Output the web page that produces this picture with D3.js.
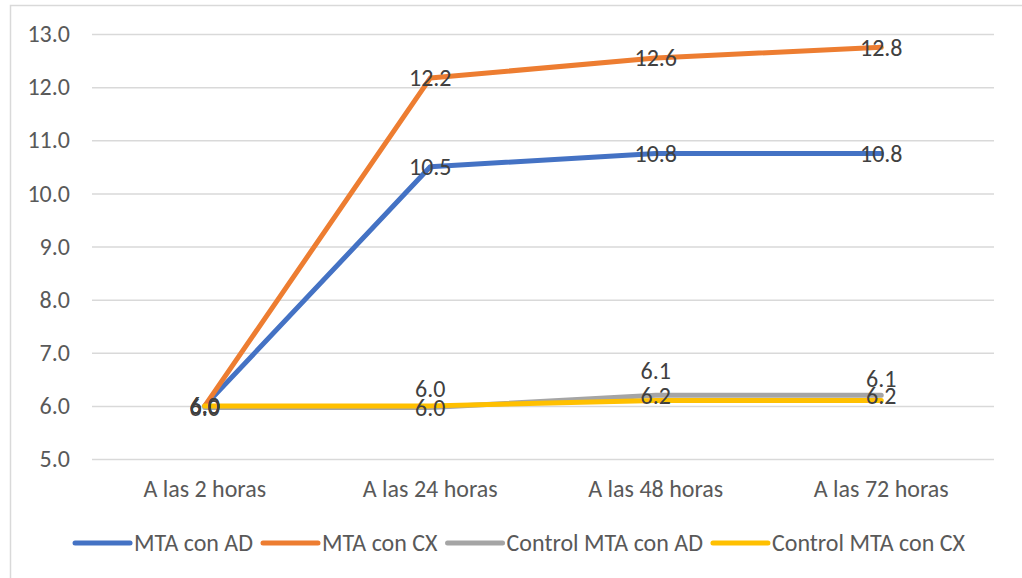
<!DOCTYPE html>
<html>
<head>
<meta charset="utf-8">
<script src="https://cdn.jsdelivr.net/npm/d3@7"></script>
<style>
  body { margin: 0; background: #fff; }
  text { font-family: Calibri, Carlito, "Liberation Sans", Arial, sans-serif; }
</style>
</head>
<body>
<div id="chart"></div>
<script>
// categorías y series
const categories = ["A las 2 horas", "A las 24 horas", "A las 48 horas", "A las 72 horas"];
const mtaAD = [6.0, 10.5, 10.75, 10.75];
const mtaCX = [6.0, 12.17, 12.55, 12.75];
const controlAD = [5.97, 5.97, 6.2, 6.2];
const controlCX = [6.0, 6.0, 6.1, 6.1];
const yTicks = [5, 6, 7, 8, 9, 10, 11, 12, 13];

// desplazamiento vertical (px) de las etiquetas, movidas a mano en el original
const offsetsCenter = [0, 0, 0, 0];
const offsetsControlCX = [0, -17, -30, -22];

const series = [
    { name: "MTA con AD", values: mtaAD, color: "#4472C4", offsets: offsetsCenter },
    { name: "MTA con CX", values: mtaCX, color: "#ED7D31", offsets: offsetsCenter },
    { name: "Control MTA con AD", values: controlAD, color: "#A5A5A5", offsets: offsetsCenter },
    { name: "Control MTA con CX", values: controlCX, color: "#FFC000", offsets: offsetsControlCX }
];

const width = 1022;
const height = 578;
const fontSize = "24px";
const plot = { left: 92, right: 994, top: 34, bottom: 459 };

const svg = d3.select("#chart")
    .append("svg")
    .attr("width", width)
    .attr("height", height);

// borde del gráfico
svg.append("rect")
    .attr("x", 10.5)
    .attr("y", 5.5)
    .attr("width", width + 20)
    .attr("height", height + 20)
    .attr("fill", "#fff")
    .attr("stroke", "#d9d9d9")
    .attr("stroke-width", 1.5);

const x = d3.scaleBand()
    .domain(categories)
    .range([plot.left, plot.right])
    .padding(0);

const y = d3.scaleLinear()
    .domain([5, 13])
    .range([plot.bottom, plot.top]);

// líneas de cuadrícula + etiquetas del eje Y
const yAxis = d3.axisLeft(y)
    .tickValues(yTicks)
    .tickFormat(d3.format(".1f"))
    .tickSize(-(plot.right - plot.left))
    .tickPadding(22);

const gy = svg.append("g")
    .attr("transform", `translate(${plot.left},0)`)
    .call(yAxis);
gy.select(".domain").remove();
gy.selectAll(".tick line")
    .attr("stroke", "#d9d9d9")
    .attr("stroke-width", 1.5);
gy.selectAll(".tick text")
    .attr("fill", "#595959")
    .style("font-size", fontSize);

// eje X
const xAxis = d3.axisBottom(x)
    .tickSize(0)
    .tickPadding(21);
const gx = svg.append("g")
    .attr("transform", `translate(0,${plot.bottom})`)
    .call(xAxis);
gx.select(".domain").remove();
gx.selectAll(".tick text")
    .attr("fill", "#595959")
    .style("font-size", fontSize);

const px = i => x(categories[i]) + x.bandwidth() / 2;

const line = d3.line()
    .x((d, i) => px(i))
    .y(d => y(d));

svg.selectAll("path.serie")
    .data(series)
    .enter()
    .append("path")
    .attr("class", "serie")
    .attr("d", d => line(d.values))
    .attr("fill", "none")
    .attr("stroke", d => d.color)
    .attr("stroke-width", 5)
    .attr("stroke-linejoin", "round")
    .attr("stroke-linecap", "round");

// etiquetas de datos
series.forEach(s => {
    svg.selectAll(null)
        .data(s.values)
        .enter()
        .append("text")
        .attr("x", (d, i) => px(i))
        .attr("y", (d, i) => y(d) + s.offsets[i])
        .attr("dy", "0.35em")
        .attr("text-anchor", "middle")
        .attr("fill", "#404040")
        .style("font-size", fontSize)
        .text(d => d.toFixed(1));
});

// leyenda
const legendY = 543;
const lineLen = 55;
const items = svg.append("g");
let pos = 0;
series.forEach(s => {
    const g = items.append("g").attr("transform", `translate(${pos},0)`);
    g.append("line")
        .attr("x1", 0)
        .attr("x2", lineLen)
        .attr("y1", legendY)
        .attr("y2", legendY)
        .attr("stroke", s.color)
        .attr("stroke-width", 5)
        .attr("stroke-linecap", "round");
    const t = g.append("text")
        .attr("x", lineLen + 4)
        .attr("y", legendY)
        .attr("dy", "0.35em")
        .attr("fill", "#595959")
        .style("font-size", fontSize)
        .text(s.name);
    pos += lineLen + 4 + t.node().getComputedTextLength() + 10;
});
const legendW = pos - 10;
items.attr("transform", `translate(${520 - legendW / 2},0)`);
</script>
</body>
</html>
